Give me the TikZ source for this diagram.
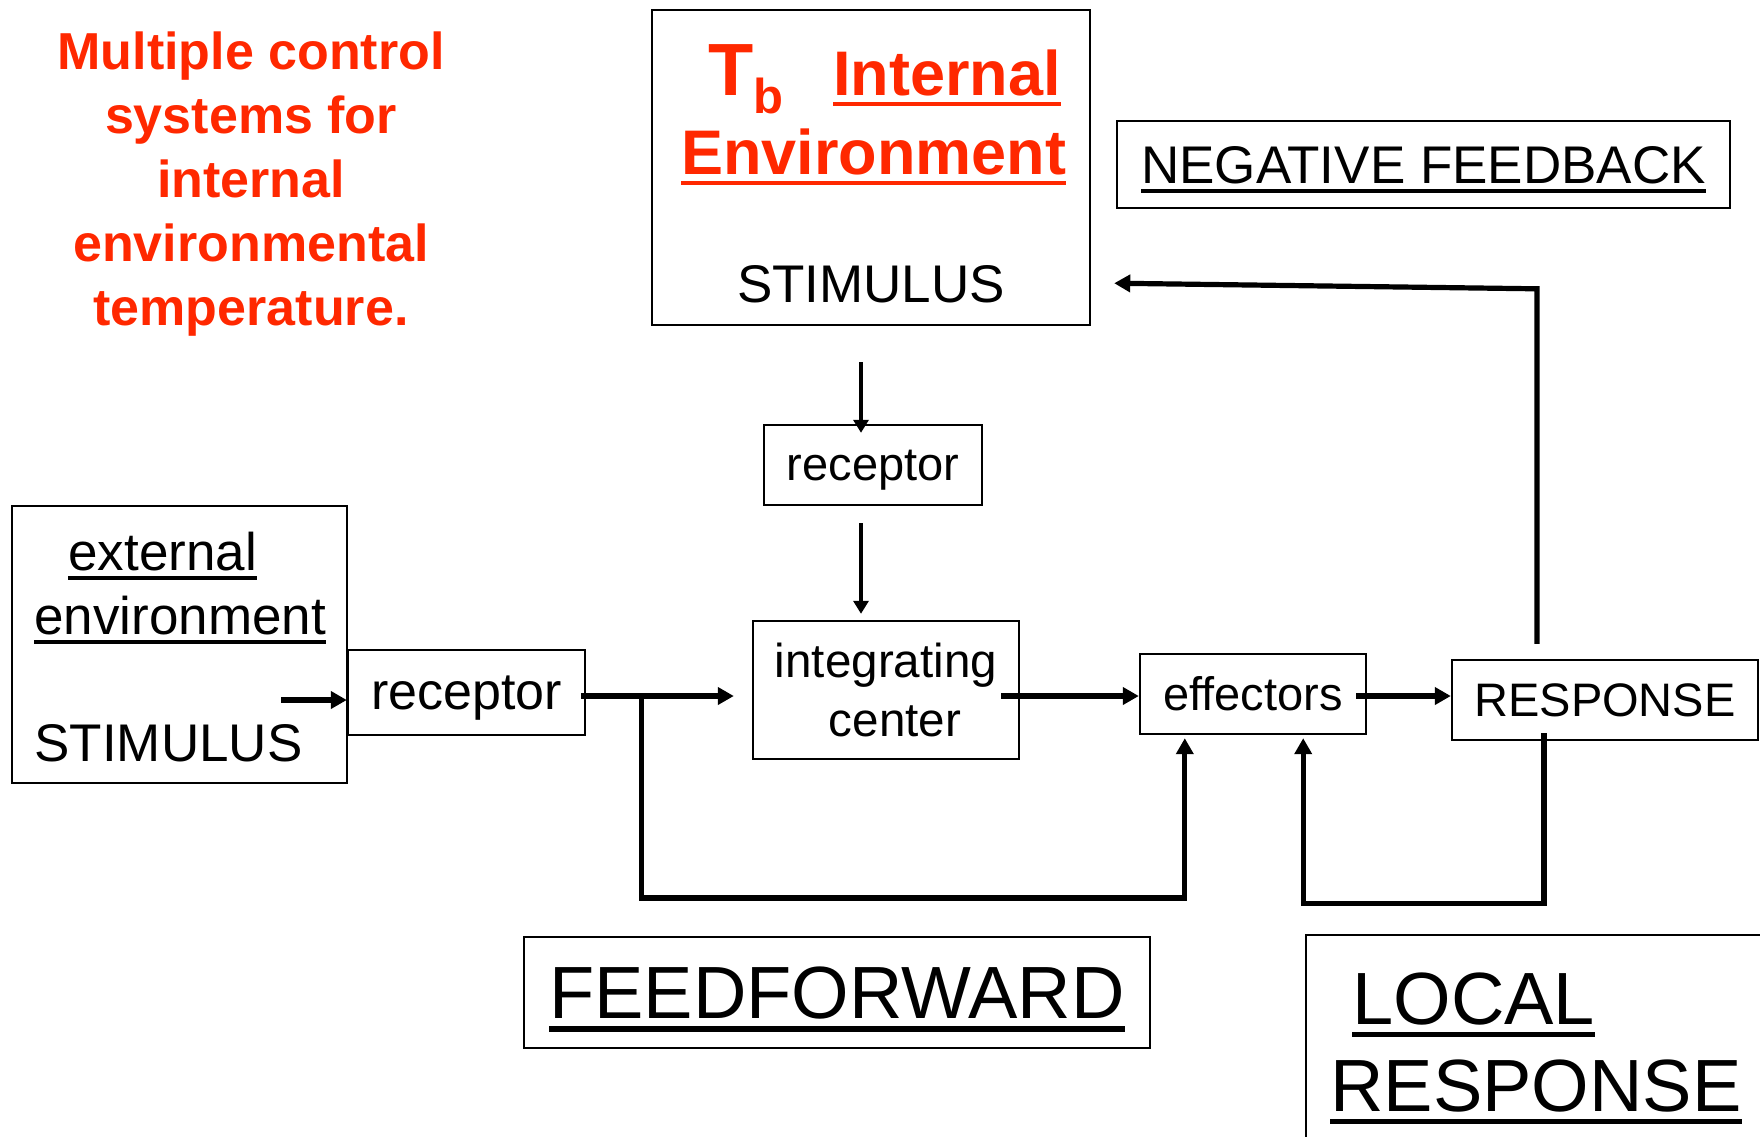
\documentclass[tikz,border=0pt]{standalone}
\usepackage{fontspec}
\setmainfont{Liberation Sans}
\usetikzlibrary{arrows.meta}
\definecolor{alertred}{RGB}{255,40,0}
\newcommand\ulin[1]{\setbox0\hbox{#1}\rlap{\vrule width\wd0 height -0.11em depth 0.18em}\box0}

\begin{document}
\begin{tikzpicture}[>={Triangle[length=8pt,width=8.5pt]}, x={(0.5pt,0pt)}, y={(0pt,-0.5pt)},
    box/.style={draw, line width=1.2pt, inner sep=0pt, align=center},
    conn/.style={line width=2.6pt},
    thinconn/.style={line width=2pt, >={Triangle[length=6.5pt,width=7.5pt]}}]
\useasboundingbox (0,0) rectangle (1760,1136);
\clip (0,0) rectangle (1760,1136);

  % title
  \node[anchor=north, inner sep=0pt, align=center, text=alertred, font=\bfseries\fontsize{26}{32}\selectfont] (title) at (251,31) {Multiple control\\systems for\\internal\\environmental\\temperature.};

  % internal environment
  \node[box, minimum width=219pt, minimum height=157.5pt] (intenv) at (871,167.5) {};
  \node[anchor=base west, inner sep=0pt, text=alertred, font=\bfseries\fontsize{37}{40}\selectfont] (tb) at (708,95) {T};
  \node[anchor=base west, inner sep=0pt, text=alertred, font=\bfseries\fontsize{24.5}{28}\selectfont] (tbsub) at (753,113) {b};
  \node[anchor=base west, inner sep=0pt, text=alertred, font=\bfseries\fontsize{31.5}{36}\selectfont] (intname) at (833,95) {\ulin{Internal}};
  \node[anchor=base west, inner sep=0pt, text=alertred, font=\bfseries\fontsize{31.5}{36}\selectfont] (envname) at (681,174) {\ulin{Environment}};
  \node[anchor=base, inner sep=0pt, font=\fontsize{26.5}{30}\selectfont] (intstim) at (871,302) {STIMULUS};

  \node[box, minimum width=306.5pt, minimum height=43.5pt, text depth=0pt, font=\fontsize{26.5}{30}\selectfont] (negfb) at (1423.5,164.5) {\ulin{NEGATIVE FEEDBACK}};

  % external environment
  \node[box, minimum width=167.5pt, minimum height=138.5pt] (extenv) at (179.5,644.5) {};
  \node[anchor=base west, inner sep=0pt, font=\fontsize{26.5}{30}\selectfont] (extname) at (68,570) {\ulin{external}};
  \node[anchor=base west, inner sep=0pt, font=\fontsize{26.5}{30}\selectfont] (extname2) at (34,634) {\ulin{environment}};
  \node[anchor=base west, inner sep=0pt, font=\fontsize{26.5}{30}\selectfont] (extstimtxt) at (34,761) {STIMULUS};

  % chain
  \node[box, minimum width=118.5pt, minimum height=42.5pt, text depth=0pt, font=\fontsize{26}{30}\selectfont] (rec1) at (466.5,692.5) {receptor};
  \node[box, minimum width=109pt, minimum height=40pt, text depth=0pt, font=\fontsize{23.5}{28}\selectfont] (rec2) at (873,465) {receptor};
  \node[box, minimum width=133pt, minimum height=69pt, font=\fontsize{23.8}{29.5}\selectfont] (integ) at (886,690) {integrating\\\hspace*{9pt}center};
  \node[box, minimum width=113pt, minimum height=40pt, font=\fontsize{23.5}{28}\selectfont] (eff) at (1253,694) {effectors};
  \node[box, minimum width=153pt, minimum height=40pt, text depth=0pt, font=\fontsize{23.5}{28}\selectfont] (resp) at (1605,700) {RESPONSE};

  % labels below
  \node[box, minimum width=313pt, minimum height=55.5pt, text depth=0pt, font=\fontsize{37}{40}\selectfont] (ffwd) at (837,992.5) {\ulin{FEEDFORWARD}};
  \node[box, minimum width=247pt, minimum height=122.5pt] (localr) at (1553,1057.5) {};
  \node[anchor=base west, inner sep=0pt, font=\fontsize{37}{40}\selectfont] (localname) at (1352,1024) {\ulin{LOCAL}};
  \node[anchor=base west, inner sep=0pt, font=\fontsize{37}{40}\selectfont] (localname2) at (1330,1111) {\ulin{RESPONSE}};

  % connectors
  \coordinate (extstim) at (281,700);
  \draw[conn,->] (extstim) -- (extstim -| rec1.west);
  \draw[conn,->] ([xshift=-2.5pt,yshift=-1.75pt]rec1.east) coordinate (r1out) -- ([xshift=-9pt]integ.west |- r1out);
  \coordinate (ffsplit) at ([xshift=30pt]r1out);
  \draw[conn,->] (ffsplit) -- ++(0,202) -| ([xshift=23pt,yshift=-1.5pt]eff.south west);
  \draw[conn,->] ([xshift=-9.5pt]integ.east |- r1out) -- (eff.west |- r1out);
  \draw[conn,->] ([xshift=-5.5pt]eff.east |- r1out) -- (resp.west |- r1out);
  \draw[conn,->] ([xshift=-30.5pt,yshift=4pt]resp.south) -- ++(0,170) -| ([xshift=-32pt,yshift=-1.5pt]eff.south east);
  \draw[conn,->] ([xshift=-34pt,yshift=7.5pt]resp.north) -- ++(0,-355) coordinate (fbturn) -- ([xshift=11.5pt,yshift=21.5pt]intenv.south east);
  \draw[thinconn,->] ([xshift=-5pt,yshift=-18pt]intenv.south) coordinate (intout) -- ([yshift=-4.5pt]intout |- rec2.north);
  \draw[thinconn,->] ([xshift=-6pt,yshift=-8.5pt]rec2.south) coordinate (r2out) -- ([yshift=3pt]r2out |- integ.north);
\end{tikzpicture}
\end{document}
